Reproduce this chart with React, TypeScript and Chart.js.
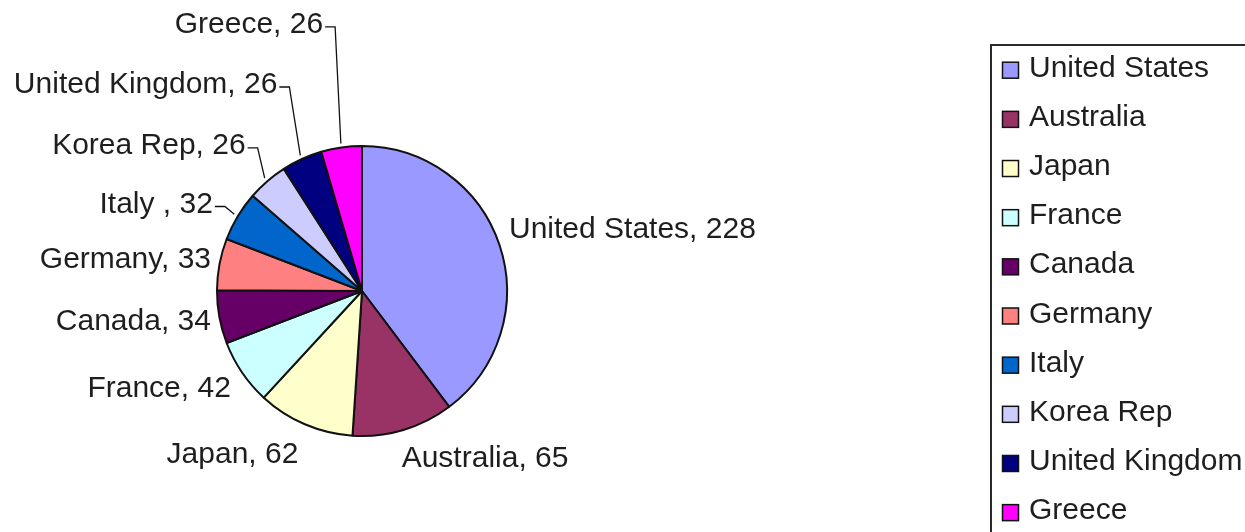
import React, { useEffect, useRef } from "react";
import { Chart, registerables } from "chart.js";

Chart.register(...registerables);

// ---- data ----
const countries = [
  "United States",
  "Australia",
  "Japan",
  "France",
  "Canada",
  "Germany",
  "Italy ",
  "Korea Rep",
  "United Kingdom",
  "Greece",
];
const values = [228, 65, 62, 42, 34, 33, 32, 26, 26, 26];
const colors = [
  "#9999FF",
  "#993366",
  "#FFFFCC",
  "#CCFFFF",
  "#660066",
  "#FF8080",
  "#0066CC",
  "#CCCCFF",
  "#000080",
  "#FF00FF",
];

// ---- label layout (offset of text anchor from slice's outer mid-point, px) ----
const labelDx = [9.5, -1.8, -6.5, -11.2, -8.4, -8.5, -24.9, -21.7, -24.6, -18.3];
const labelDy = [-7.4, 37, 38.8, 25, 12.8, 4, -3.7, -27.4, -66, -114.5];
const labelAlign: CanvasTextAlign[] = [
  "left", "left", "right", "right", "right", "right", "right", "right", "right", "right",
];
const hasLeader = [false, false, false, false, false, false, true, true, true, true];

const FONT = '30px "Liberation Sans", Arial, sans-serif';
const TEXT_COLOR = "#1e1e1e";

const labelPlugin = {
  id: "excelLabels",
  afterDraw(chart: any) {
    const ctx: CanvasRenderingContext2D = chart.ctx;
    const meta = chart.getDatasetMeta(0);
    const labels: string[] = chart.data.labels;
    const data: number[] = chart.data.datasets[0].data;
    ctx.save();
    ctx.font = FONT;
    ctx.fillStyle = TEXT_COLOR;
    ctx.textBaseline = "alphabetic";
    meta.data.forEach((arc: any, i: number) => {
      const { x, y, startAngle, endAngle, outerRadius } = arc.getProps(
        ["x", "y", "startAngle", "endAngle", "outerRadius"],
        true
      );
      const mid = (startAngle + endAngle) / 2;
      const ex = x + Math.cos(mid) * outerRadius;
      const ey = y + Math.sin(mid) * outerRadius;
      const tx = ex + labelDx[i];
      const ty = ey + labelDy[i];
      const text = `${labels[i]}, ${data[i]}`;
      ctx.textAlign = labelAlign[i];
      ctx.fillText(text, tx, ty);
      if (hasLeader[i]) {
        const lx = x + Math.cos(mid) * (outerRadius + 4);
        const ly = y + Math.sin(mid) * (outerRadius + 4);
        ctx.beginPath();
        ctx.strokeStyle = "#111";
        ctx.lineWidth = 1.3;
        ctx.moveTo(tx + 2, ty - 6);
        ctx.lineTo(tx + 12, ty - 6);
        ctx.lineTo(lx, ly);
        ctx.stroke();
      }
    });
    ctx.restore();
  },
};

const legendPlugin = {
  id: "excelLegend",
  afterDraw(chart: any) {
    const ctx: CanvasRenderingContext2D = chart.ctx;
    const labels: string[] = chart.data.labels;
    const bg: string[] = chart.data.datasets[0].backgroundColor;
    ctx.save();
    ctx.strokeStyle = "#2a2a2a";
    ctx.lineWidth = 2;
    ctx.strokeRect(991, 45, 320, 600);
    ctx.font = FONT;
    ctx.fillStyle = TEXT_COLOR;
    ctx.textAlign = "left";
    ctx.textBaseline = "alphabetic";
    labels.forEach((lab, i) => {
      const base = 76.7 + 49.16 * i;
      ctx.fillStyle = bg[i];
      ctx.fillRect(1002.5, base - 14.5, 16, 16);
      ctx.strokeStyle = "#111";
      ctx.lineWidth = 1.5;
      ctx.strokeRect(1002.5, base - 14.5, 16, 16);
      ctx.fillStyle = TEXT_COLOR;
      ctx.fillText(lab.trim(), 1029, base);
    });
    ctx.restore();
  },
};

export default function App() {
  const ref = useRef<HTMLCanvasElement | null>(null);
  useEffect(() => {
    if (!ref.current) return;
    const chart = new Chart(ref.current, {
      type: "pie",
      data: {
        labels: countries,
        datasets: [
          {
            data: values,
            backgroundColor: colors,
            borderColor: "#111",
            borderWidth: 2,
          },
        ],
      },
      options: {
        responsive: false,
        animation: false,
        layout: { padding: { left: 216, right: 737, top: 145, bottom: 95 } },
        plugins: {
          legend: { display: false },
          tooltip: { enabled: false },
          title: { display: false },
        },
      },
      plugins: [labelPlugin, legendPlugin],
    });
    return () => chart.destroy();
  }, []);
  return (
    <div style={{ position: "fixed", left: 0, top: 0, width: 1245, height: 532, background: "#fff" }}>
      <canvas ref={ref} width={1245} height={532} style={{ display: "block" }} />
    </div>
  );
}
